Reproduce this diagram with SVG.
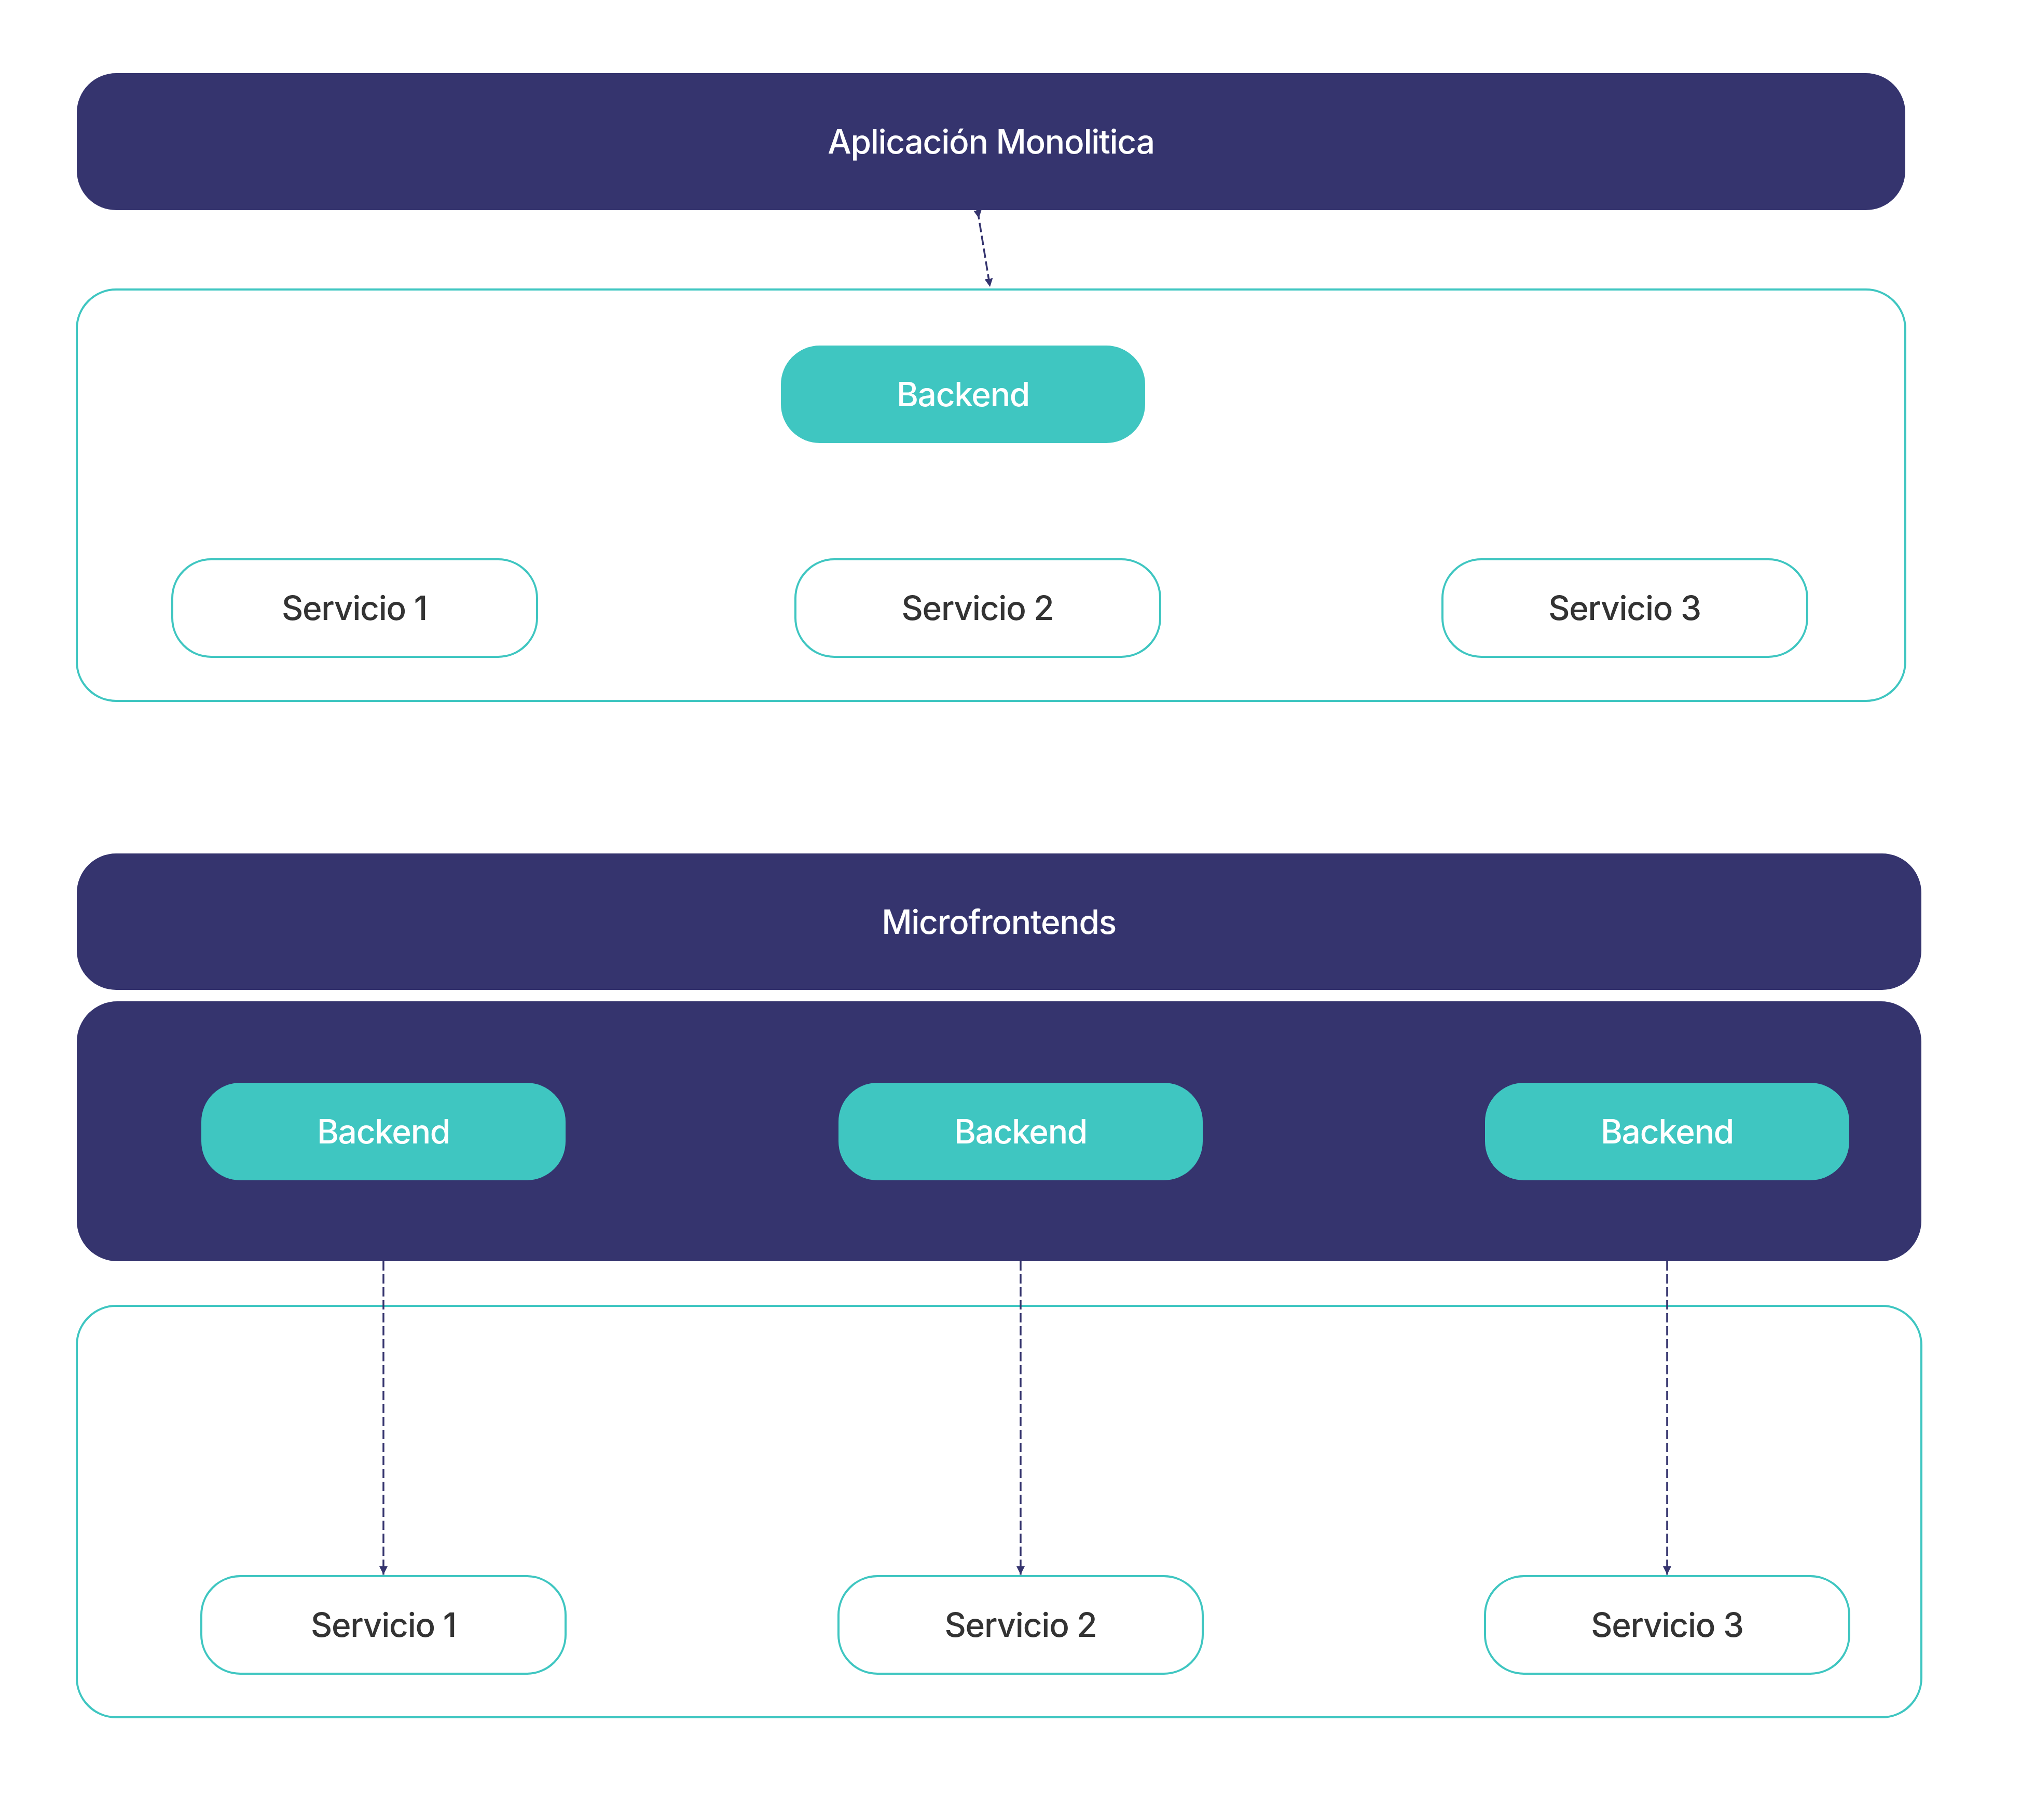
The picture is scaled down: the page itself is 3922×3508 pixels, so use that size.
<svg xmlns="http://www.w3.org/2000/svg" width="3922" height="3508" viewBox="0 0 3922 3508">
<style>
.dark{fill:#35346e}
.teal{fill:#3fc6c1}
.outline{fill:#ffffff;stroke:#3fc6c1;stroke-width:4}
.t{font-family:Inter,"Liberation Sans",sans-serif;font-size:64px;font-weight:500;letter-spacing:-1.3px;text-anchor:middle}
.w{fill:#ffffff}
.k{fill:#333333}
.con{fill:none;stroke:#35346e;stroke-width:3.5;stroke-dasharray:18 7}
</style>
<defs>
<marker id="ah" viewBox="0 0 16 16" refX="16" refY="8" markerWidth="16" markerHeight="16" markerUnits="userSpaceOnUse" orient="auto">
<path d="M0,0 L16,8 L0,16 z" fill="#35346e"/>
</marker>
<marker id="as" viewBox="0 0 16 16" refX="0" refY="8" markerWidth="16" markerHeight="16" markerUnits="userSpaceOnUse" orient="auto">
<path d="M0,0 L16,8 L0,16 z" fill="#35346e"/>
</marker>
</defs>
<rect width="3922" height="3508" fill="#ffffff"/>

<g id="monolitica">
<rect class="dark" x="148" y="141" width="3524" height="264" rx="76"/>
<text class="t w" x="1910" y="296">Aplicación Monolitica</text>
</g>
<g id="contenedor1">
<rect class="outline" x="148" y="558" width="3524" height="793" rx="76"/>
</g>
<g id="backend1">
<rect class="teal" x="1505" y="666" width="702" height="188" rx="75"/>
<text class="t w" x="1856" y="783">Backend</text>
</g>
<g id="servicio1a">
<rect class="outline" x="332" y="1078" width="703" height="188" rx="75"/>
<text class="t k" x="683" y="1195">Servicio 1</text>
</g>
<g id="servicio2a">
<rect class="outline" x="1533" y="1078" width="703" height="188" rx="75"/>
<text class="t k" x="1884" y="1195">Servicio 2</text>
</g>
<g id="servicio3a">
<rect class="outline" x="2780" y="1078" width="703" height="188" rx="75"/>
<text class="t k" x="3131" y="1195">Servicio 3</text>
</g>

<g id="microfrontends">
<rect class="dark" x="148" y="1645" width="3555" height="263" rx="76"/>
<text class="t w" x="1925" y="1800">Microfrontends</text>
</g>
<g id="backends">
<rect class="dark" x="148" y="1930" width="3555" height="501" rx="78"/>
</g>
<g id="backendA">
<rect class="teal" x="388" y="2087" width="702" height="188" rx="75"/>
<text class="t w" x="739" y="2204">Backend</text>
</g>
<g id="backendB">
<rect class="teal" x="1616" y="2087" width="702" height="188" rx="75"/>
<text class="t w" x="1967" y="2204">Backend</text>
</g>
<g id="backendC">
<rect class="teal" x="2862" y="2087" width="702" height="188" rx="75"/>
<text class="t w" x="3213" y="2204">Backend</text>
</g>
<g id="contenedor2">
<rect class="outline" x="148" y="2517" width="3555" height="793" rx="76"/>
</g>
<g id="servicio1b">
<rect class="outline" x="388" y="3038" width="702" height="188" rx="75"/>
<text class="t k" x="739" y="3155">Servicio 1</text>
</g>
<g id="servicio2b">
<rect class="outline" x="1616" y="3038" width="702" height="188" rx="75"/>
<text class="t k" x="1967" y="3155">Servicio 2</text>
</g>
<g id="servicio3b">
<rect class="outline" x="2862" y="3038" width="702" height="188" rx="75"/>
<text class="t k" x="3213" y="3155">Servicio 3</text>
</g>

<g id="connectors">
<path class="con" d="M1884,405 L1908,553" marker-start="url(#as)" marker-end="url(#ah)"/>
<path class="con" d="M739,2431 L739,3035" marker-end="url(#ah)"/>
<path class="con" d="M1967,2431 L1967,3035" marker-end="url(#ah)"/>
<path class="con" d="M3213,2431 L3213,3035" marker-end="url(#ah)"/>
</g>
</svg>
